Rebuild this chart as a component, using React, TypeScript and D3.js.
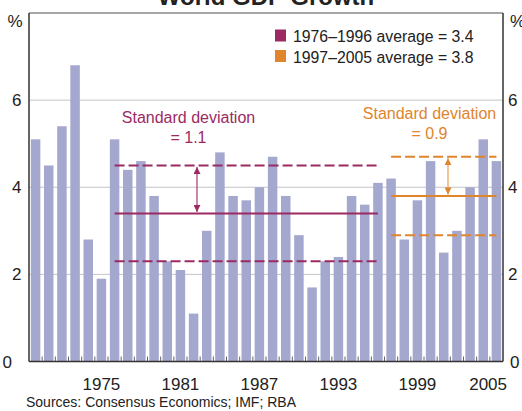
import React from "react";
import * as d3 from "d3";

const years: number[] = d3.range(1970, 2006);
const growth: number[] = [
  5.1, 4.5, 5.4, 6.8, 2.8, 1.9, 5.1, 4.4, 4.6, 3.8,
  2.3, 2.1, 1.1, 3.0, 4.8, 3.8, 3.7, 4.0, 4.7, 3.8,
  2.9, 1.7, 2.3, 2.4, 3.8, 3.6, 4.1, 4.2, 2.8, 3.7,
  4.6, 2.5, 3.0, 4.0, 5.1, 4.6,
];
const xTickYears: number[] = [1975, 1981, 1987, 1993, 1999, 2005];
const yTicks: number[] = [0, 2, 4, 6];
const gridTicks: number[] = [2, 4, 6];

const periods = [
  { from: 1976, to: 1996, mean: 3.4, sd: 1.1, label: "1976–1996 average = 3.4", color: "#9c2a62", arrowColor: "#a94a7c" },
  { from: 1997, to: 2005, mean: 3.8, sd: 0.9, label: "1997–2005 average = 3.8", color: "#e0852c", arrowColor: "#e9a463" },
];

const W = 522;
const H = 411;
const L = 29;
const R = 503;
const T = 13;
const B = 361.5;
const FONT = "'Liberation Sans', Arial, Helvetica, sans-serif";
const BAR = "#a4a7ce";

export default function App() {
  const x = d3.scaleBand<number>().domain(years).range([L, R]).paddingInner(0.28).paddingOuter(0.14);
  const y = d3.scaleLinear().domain([0, 8]).range([B, T]);
  const bw = x.bandwidth();
  const step = x.step();
  const cx = (yr: number) => (x(yr) as number) + bw / 2;

  const arrowX = [197, 448];
  const sdText = [
    { x: 188.5, y1: 123, y2: 143, t: "= 1.1" },
    { x: 429.5, y1: 119, y2: 139, t: "= 0.9" },
  ];

  return (
    <svg width={W} height={H} style={{ position: "absolute", left: 0, top: 0, background: "#fff" }} fontFamily={FONT}>
      <defs>
        {periods.map((p, i) => (
          <marker key={i} id={`ah${i}`} viewBox="0 0 10 10" refX="10" refY="5" markerWidth="7" markerHeight="7" orient="auto-start-reverse" markerUnits="userSpaceOnUse">
            <path d="M0,0 L10,5 L0,10 Z" fill={p.color} />
          </marker>
        ))}
      </defs>
      {/* title (mostly cut off) */}
      <text x={266} y={5} textAnchor="middle" fontSize={24} fontWeight="bold" fill="#222">World GDP Growth</text>

      {/* gridlines */}
      {gridTicks.map((t) => (
        <line key={t} x1={L} x2={R} y1={y(t)} y2={y(t)} stroke="#c4c4c4" strokeWidth={1} />
      ))}

      {/* bars */}
      {years.map((yr, i) => (
        <rect key={yr} x={x(yr)} y={y(growth[i])} width={bw} height={B - y(growth[i])} fill={BAR} />
      ))}

      {/* bottom ticks between bars */}
      {years.slice(1).map((yr) => {
        const tx = (x(yr) as number) - (step - bw) / 2;
        return <line key={yr} x1={tx} x2={tx} y1={B} y2={B - 5} stroke="#666" strokeWidth={1} />;
      })}

      {/* mean and sd lines */}
      {periods.map((p, i) => {
        const x1 = cx(p.from);
        const x2 = cx(p.to);
        return (
          <g key={i}>
            <line x1={x1} x2={x2} y1={y(p.mean)} y2={y(p.mean)} stroke={p.color} strokeWidth={2} />
            <line x1={x1} x2={x2} y1={y(p.mean + p.sd)} y2={y(p.mean + p.sd)} stroke={p.color} strokeWidth={2} strokeDasharray="10,4" />
            <line x1={x1} x2={x2} y1={y(p.mean - p.sd)} y2={y(p.mean - p.sd)} stroke={p.color} strokeWidth={2} strokeDasharray="10,4" />
            <line x1={arrowX[i]} x2={arrowX[i]} y1={y(p.mean + p.sd) + 1.5} y2={y(p.mean) - 1.5} stroke={p.arrowColor} strokeWidth={1.3}
              markerStart={`url(#ah${i})`} markerEnd={`url(#ah${i})`} />
            <text x={sdText[i].x} y={sdText[i].y1} textAnchor="middle" fontSize={16} fill={p.color}>Standard deviation</text>
            <text x={sdText[i].x} y={sdText[i].y2} textAnchor="middle" fontSize={16} fill={p.color}>{sdText[i].t}</text>
          </g>
        );
      })}

      {/* frame */}
      <line x1={L} x2={R} y1={T} y2={T} stroke="#8a8a8a" strokeWidth={1.5} />
      <line x1={L} x2={L} y1={T} y2={B} stroke="#333" strokeWidth={1.5} />
      <line x1={R} x2={R} y1={T} y2={B} stroke="#333" strokeWidth={1.5} />
      <line x1={L} x2={R} y1={B} y2={B} stroke="#333" strokeWidth={1.5} />

      {/* y labels */}
      {yTicks.map((t) => (
        <g key={t}>
          <text x={t === 0 ? 12 : 21.5} y={y(t)} dy="0.36em" textAnchor="end" fontSize={17} fill="#222">{t}</text>
          <text x={t === 0 ? 510 : 508} y={y(t)} dy="0.36em" textAnchor="start" fontSize={17} fill="#222">{t}</text>
        </g>
      ))}
      <text x={22.5} y={27} textAnchor="end" fontSize={17} fill="#222">%</text>
      <text x={510} y={27} textAnchor="start" fontSize={17} fill="#222">%</text>

      {/* x labels */}
      {xTickYears.map((yr) => (
        <text key={yr} x={yr === 2005 ? 507 : cx(yr)} y={390} textAnchor={yr === 2005 ? "end" : "middle"} fontSize={17} fill="#222">{yr}</text>
      ))}

      {/* legend */}
      {periods.map((p, i) => (
        <g key={i} transform={`translate(275, ${29.5 + i * 20.5})`}>
          <rect x={0} y={0} width={11} height={12} fill={p.color} />
          <text x={18} y={12.5} fontSize={15.8} fill="#222">{p.label}</text>
        </g>
      ))}

      {/* source */}
      <text x={26} y={407} fontSize={14} fill="#222">Sources: Consensus Economics; IMF; RBA</text>
    </svg>
  );
}
